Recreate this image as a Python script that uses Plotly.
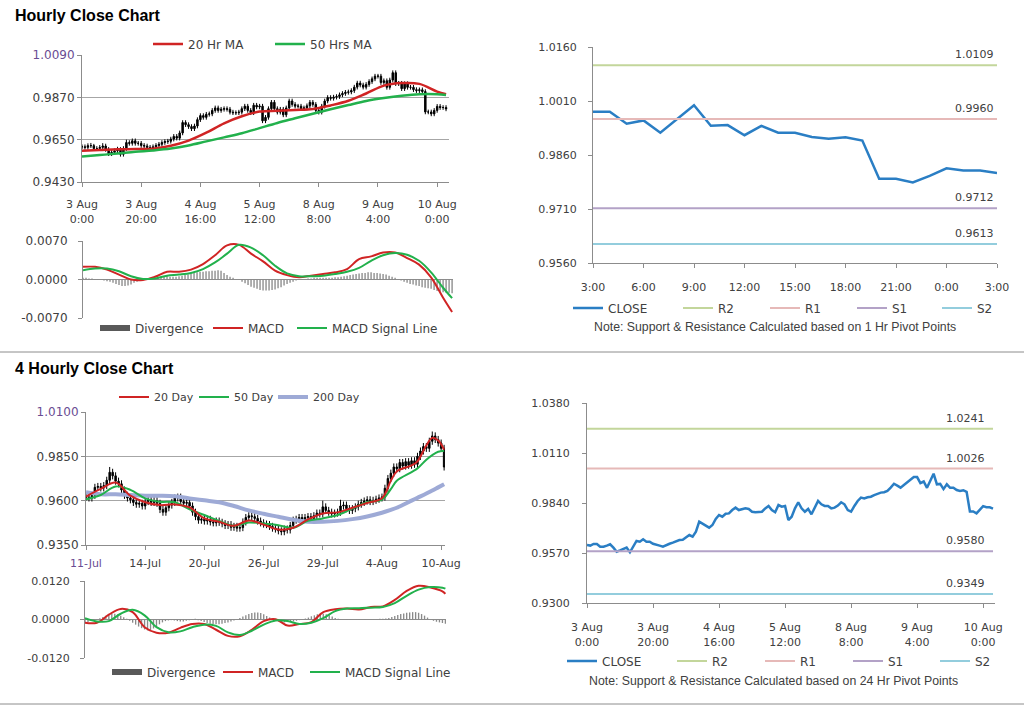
import plotly.graph_objects as go

W, H = 1024, 706
FONT = "DejaVu Sans"
TXT = "#404040"
AXC = "#8c8c8c"
GRID = "#a6a6a6"
RED = "#d02424"
GREEN = "#22b14c"
LAV = "#9eaad6"
BLUE = "#2a7ec4"
PIV_COLORS = ["#c3d69b", "#e6b9b8", "#b3a2c7", "#93cddd"]
PIV_NAMES = ["R2", "R1", "S1", "S2"]

# ---------------- hourly data: 3 Aug 0:00 .. 10 Aug 3:00 (weekend skipped) ----------------
hr_close = [
    0.9613, 0.9610, 0.9619, 0.9619, 0.9604, 0.9604, 0.9610, 0.9617, 0.9599, 0.9577,
    0.9584, 0.9592, 0.9599, 0.9574, 0.9604, 0.9635, 0.9631, 0.9644, 0.9631, 0.9631,
    0.9620, 0.9617, 0.9610, 0.9604, 0.9613, 0.9620, 0.9626, 0.9635, 0.9640, 0.9642,
    0.9653, 0.9667, 0.9658, 0.9685, 0.9739, 0.9728, 0.9718, 0.9707, 0.9721, 0.9754,
    0.9775, 0.9766, 0.9782, 0.9784, 0.9802, 0.9815, 0.9802, 0.9808, 0.9811, 0.9808,
    0.9793, 0.9790, 0.9790, 0.9793, 0.9811, 0.9824, 0.9802, 0.9790, 0.9829, 0.9820,
    0.9824, 0.9748, 0.9766, 0.9811, 0.9844, 0.9811, 0.9793, 0.9808, 0.9779, 0.9815,
    0.9851, 0.9833, 0.9824, 0.9824, 0.9811, 0.9815, 0.9826, 0.9844, 0.9833, 0.9802,
    0.9793, 0.9824, 0.9851, 0.9869, 0.9865, 0.9871, 0.9874, 0.9883, 0.9890, 0.9896,
    0.9898, 0.9905, 0.9923, 0.9944, 0.9934, 0.9923, 0.9937, 0.9952, 0.9966, 0.9980,
    0.9980, 0.9947, 0.9956, 0.9922, 0.9960, 0.9998, 0.9941, 0.9943, 0.9915, 0.9941,
    0.9922, 0.9922, 0.9910, 0.9905, 0.9909, 0.9900, 0.9794, 0.9794, 0.9784, 0.9802,
    0.9823, 0.9817, 0.9817, 0.9810,
]
hr_high = [
    0.9625, 0.9625, 0.9631, 0.9633, 0.9628, 0.9616, 0.9622, 0.9632, 0.9629, 0.9611,
    0.9596, 0.9604, 0.9613, 0.9611, 0.9616, 0.9650, 0.9647, 0.9656, 0.9656, 0.9643,
    0.9643, 0.9632, 0.9629, 0.9622, 0.9625, 0.9632, 0.9638, 0.9647, 0.9652, 0.9654,
    0.9665, 0.9679, 0.9679, 0.9697, 0.9751, 0.9751, 0.9740, 0.9730, 0.9733, 0.9766,
    0.9787, 0.9787, 0.9794, 0.9796, 0.9814, 0.9827, 0.9827, 0.9820, 0.9823, 0.9823,
    0.9820, 0.9805, 0.9802, 0.9805, 0.9823, 0.9836, 0.9836, 0.9814, 0.9841, 0.9841,
    0.9836, 0.9836, 0.9778, 0.9823, 0.9856, 0.9856, 0.9823, 0.9820, 0.9820, 0.9827,
    0.9863, 0.9863, 0.9845, 0.9836, 0.9836, 0.9827, 0.9838, 0.9856, 0.9856, 0.9845,
    0.9814, 0.9836, 0.9863, 0.9881, 0.9881, 0.9883, 0.9886, 0.9895, 0.9902, 0.9908,
    0.9910, 0.9917, 0.9935, 0.9956, 0.9956, 0.9946, 0.9949, 0.9964, 0.9978, 0.9992,
    0.9992, 0.9992, 0.9968, 0.9968, 0.9972, 1.0010, 1.0010, 0.9955, 0.9955, 0.9953,
    0.9953, 0.9934, 0.9934, 0.9922, 0.9921, 0.9921, 0.9912, 0.9806, 0.9806, 0.9814,
    0.9835, 0.9835, 0.9829, 0.9829,
]
hr_low = [
    0.9601, 0.9598, 0.9598, 0.9607, 0.9592, 0.9592, 0.9592, 0.9600, 0.9587, 0.9565,
    0.9565, 0.9572, 0.9580, 0.9562, 0.9562, 0.9592, 0.9619, 0.9619, 0.9619, 0.9619,
    0.9608, 0.9605, 0.9598, 0.9592, 0.9592, 0.9601, 0.9608, 0.9614, 0.9623, 0.9628,
    0.9630, 0.9641, 0.9646, 0.9646, 0.9673, 0.9716, 0.9706, 0.9695, 0.9695, 0.9709,
    0.9742, 0.9754, 0.9754, 0.9770, 0.9772, 0.9790, 0.9790, 0.9790, 0.9796, 0.9796,
    0.9781, 0.9778, 0.9778, 0.9778, 0.9781, 0.9799, 0.9790, 0.9778, 0.9778, 0.9808,
    0.9808, 0.9736, 0.9736, 0.9754, 0.9799, 0.9799, 0.9781, 0.9781, 0.9767, 0.9767,
    0.9803, 0.9821, 0.9812, 0.9812, 0.9799, 0.9799, 0.9803, 0.9814, 0.9821, 0.9790,
    0.9781, 0.9781, 0.9812, 0.9839, 0.9853, 0.9853, 0.9859, 0.9862, 0.9871, 0.9878,
    0.9884, 0.9886, 0.9893, 0.9911, 0.9922, 0.9911, 0.9911, 0.9925, 0.9940, 0.9954,
    0.9968, 0.9935, 0.9935, 0.9910, 0.9910, 0.9948, 0.9929, 0.9929, 0.9903, 0.9903,
    0.9910, 0.9910, 0.9898, 0.9893, 0.9893, 0.9888, 0.9782, 0.9782, 0.9772, 0.9772,
    0.9790, 0.9805, 0.9805, 0.9798,
]
# each hourly bar opens at the previous bar's close
hr_open = hr_close[:1] + hr_close[:-1]

hr_ticks = [0, 20, 40, 60, 80, 100, 120]
hr_ticklabels = ["3 Aug<br>0:00", "3 Aug<br>20:00", "4 Aug<br>16:00", "5 Aug<br>12:00",
                 "8 Aug<br>8:00", "9 Aug<br>4:00", "10 Aug<br>0:00"]

hr_ma_idx = [0, 6, 12, 18, 24, 30, 36, 42, 48, 54, 60, 66, 72, 78, 84, 90, 96, 102, 108, 114, 120, 123]
hr_ma20 = [0.9592, 0.9596, 0.9600, 0.9601, 0.9603, 0.9618, 0.9645, 0.9686, 0.9735, 0.9772, 0.9796,
           0.9800, 0.9804, 0.9809, 0.9828, 0.9852, 0.9890, 0.9931, 0.9944, 0.9940, 0.9900, 0.9886]
hr_ma50 = [0.9562, 0.9570, 0.9578, 0.9587, 0.9594, 0.9604, 0.9620, 0.9641, 0.9662, 0.9683, 0.9710,
           0.9737, 0.9761, 0.9785, 0.9808, 0.9830, 0.9851, 0.9866, 0.9878, 0.9886, 0.9886, 0.9882]

hr_macd_idx = [0, 4, 8, 12, 16, 20, 24, 28, 32, 36, 40, 44, 48, 52, 56, 60, 64, 68, 72, 76, 80,
               84, 88, 92, 96, 100, 104, 108, 112, 116, 120, 123]
hr_macd = [0.0023, 0.0023, 0.0018, 0.0009, 0.0000, -0.0001, 0.0005, 0.0014, 0.0014, 0.0018, 0.0028,
           0.0044, 0.0062, 0.0063, 0.0047, 0.0033, 0.0016, 0.0008, 0.0004, 0.0007, 0.0010,
           0.0013, 0.0019, 0.0037, 0.0042, 0.0049, 0.0049, 0.0039, 0.0027, 0.0004, -0.0033, -0.0059]
hr_signal = [0.0017, 0.0020, 0.0020, 0.0015, 0.0006, 0.0001, 0.0002, 0.0007, 0.0009, 0.0012, 0.0019,
             0.0031, 0.0047, 0.0063, 0.0058, 0.0044, 0.0025, 0.0011, 0.0006, 0.0006, 0.0007,
             0.0010, 0.0014, 0.0021, 0.0034, 0.0044, 0.0048, 0.0045, 0.0034, 0.0013, -0.0015, -0.0034]
hr_div = [
    0.0003, 0.0003, 0.0002, 0.0002, 0.0001, 0.0001, 0.0000,
    -0.0002, -0.0003, -0.0004, -0.0006, -0.0008,
    -0.0010, -0.0012, -0.0012, -0.0011, -0.0009,
    -0.0006, -0.0004, -0.0002, -0.0001,
    0.0001, 0.0002, 0.0003, 0.0004, 0.0005, 0.0005, 0.0006, 0.0006, 0.0005, 0.0005,
    0.0005, 0.0006, 0.0007, 0.0008, 0.0009,
    0.0010, 0.0012, 0.0013, 0.0014, 0.0014, 0.0015, 0.0015, 0.0016, 0.0016, 0.0017, 0.0016,
    0.0012, 0.0008, 0.0005, 0.0003, 0.0001, -0.0001,
    -0.0004, -0.0007, -0.0010, -0.0013, -0.0015, -0.0017,
    -0.0019, -0.0020, -0.0020, -0.0020, -0.0019, -0.0018, -0.0016, -0.0014,
    -0.0011, -0.0008, -0.0006, -0.0004, -0.0002, -0.0001,
    0.0001, 0.0001, 0.0002, 0.0002, 0.0003, 0.0003, 0.0003, 0.0003, 0.0003, 0.0003, 0.0003, 0.0004, 0.0004,
    0.0005, 0.0006, 0.0007, 0.0008, 0.0009, 0.0010, 0.0011, 0.0012, 0.0012, 0.0013, 0.0013, 0.0012,
    0.0012, 0.0011, 0.0010, 0.0009, 0.0007, 0.0005, 0.0003,
    0.0001, -0.0002, -0.0004, -0.0006, -0.0008, -0.0009, -0.0011, -0.0012, -0.0014, -0.0015,
    -0.0016, -0.0017, -0.0019, -0.0021, -0.0022, -0.0023, -0.0024, -0.0024, -0.0025,
]

# ---------------- 1 Hr pivot chart: 9 Aug 3:00 .. 10 Aug 3:00 ----------------
piv1_close = hr_close[-25:]
piv1_ticks = [0, 3, 6, 9, 12, 15, 18, 21, 24]
piv1_ticklabels = ["3:00", "6:00", "9:00", "12:00", "15:00", "18:00", "21:00", "0:00", "3:00"]
piv1_levels = [1.0109, 0.9960, 0.9712, 0.9613]
piv1_yticks = [0.9560, 0.9710, 0.9860, 1.0010, 1.0160]

# ---------------- 24 Hr pivot chart (hourly closes) ----------------
piv24_levels = [1.0241, 1.0026, 0.9580, 0.9349]
piv24_yticks = [0.9300, 0.9570, 0.9840, 1.0110, 1.0380]

# ---------------- 4 hourly data: 11 Jul .. 10 Aug ----------------
h4_close = [
    0.9620, 0.9615, 0.9630, 0.9675, 0.9680, 0.9672, 0.9685, 0.9715, 0.9760, 0.9740,
    0.9710, 0.9695, 0.9660, 0.9630, 0.9615, 0.9605, 0.9590, 0.9580, 0.9585, 0.9570,
    0.9595, 0.9605, 0.9590, 0.9600, 0.9585, 0.9550, 0.9535, 0.9560, 0.9575, 0.9590,
    0.9615, 0.9620, 0.9595, 0.9585, 0.9590, 0.9570, 0.9535, 0.9510, 0.9490, 0.9495,
    0.9485, 0.9495, 0.9480, 0.9475, 0.9485, 0.9478, 0.9470, 0.9460, 0.9465, 0.9450,
    0.9455, 0.9445, 0.9448, 0.9480, 0.9505, 0.9515, 0.9510, 0.9500, 0.9485, 0.9475,
    0.9468, 0.9465, 0.9455, 0.9445, 0.9440, 0.9430, 0.9425, 0.9440, 0.9435, 0.9460,
    0.9490, 0.9495, 0.9505, 0.9495, 0.9505, 0.9510, 0.9500, 0.9515, 0.9530, 0.9525,
    0.9565, 0.9545, 0.9535, 0.9525, 0.9530, 0.9535, 0.9570, 0.9575, 0.9555, 0.9545,
    0.9555, 0.9565, 0.9580, 0.9590, 0.9598, 0.9605, 0.9595, 0.9602, 0.9608, 0.9615,
    0.9620, 0.9670, 0.9725, 0.9755, 0.9790, 0.9780, 0.9815, 0.9795, 0.9820, 0.9800,
    0.9825, 0.9805, 0.9850, 0.9880, 0.9905, 0.9895, 0.9935, 0.9965, 0.9945, 0.9925,
    0.9895, 0.9790,
]
h4_high = [
    0.9640, 0.9640, 0.9650, 0.9695, 0.9700, 0.9700, 0.9705, 0.9735, 0.9790, 0.9780,
    0.9760, 0.9730, 0.9715, 0.9680, 0.9650, 0.9635, 0.9625, 0.9610, 0.9605, 0.9605,
    0.9615, 0.9625, 0.9625, 0.9620, 0.9620, 0.9605, 0.9570, 0.9580, 0.9595, 0.9610,
    0.9635, 0.9640, 0.9640, 0.9615, 0.9610, 0.9610, 0.9590, 0.9555, 0.9530, 0.9515,
    0.9515, 0.9515, 0.9515, 0.9500, 0.9505, 0.9505, 0.9498, 0.9490, 0.9485, 0.9485,
    0.9475, 0.9475, 0.9468, 0.9500, 0.9525, 0.9535, 0.9535, 0.9530, 0.9520, 0.9505,
    0.9495, 0.9488, 0.9485, 0.9475, 0.9465, 0.9460, 0.9450, 0.9460, 0.9460, 0.9480,
    0.9510, 0.9515, 0.9525, 0.9525, 0.9525, 0.9530, 0.9530, 0.9535, 0.9550, 0.9550,
    0.9600, 0.9585, 0.9565, 0.9555, 0.9550, 0.9555, 0.9605, 0.9595, 0.9595, 0.9575,
    0.9575, 0.9585, 0.9600, 0.9610, 0.9618, 0.9625, 0.9625, 0.9622, 0.9628, 0.9635,
    0.9640, 0.9690, 0.9745, 0.9775, 0.9810, 0.9810, 0.9835, 0.9835, 0.9840, 0.9840,
    0.9845, 0.9845, 0.9870, 0.9900, 0.9925, 0.9925, 0.9955, 0.9990, 0.9985, 0.9965,
    0.9945, 0.9915,
]
h4_low = [
    0.9600, 0.9595, 0.9595, 0.9610, 0.9655, 0.9652, 0.9652, 0.9665, 0.9695, 0.9720,
    0.9690, 0.9675, 0.9640, 0.9610, 0.9595, 0.9585, 0.9570, 0.9560, 0.9560, 0.9550,
    0.9550, 0.9575, 0.9570, 0.9570, 0.9565, 0.9530, 0.9515, 0.9515, 0.9540, 0.9555,
    0.9570, 0.9595, 0.9575, 0.9565, 0.9565, 0.9550, 0.9515, 0.9490, 0.9470, 0.9470,
    0.9465, 0.9465, 0.9460, 0.9455, 0.9455, 0.9458, 0.9450, 0.9440, 0.9440, 0.9430,
    0.9430, 0.9425, 0.9425, 0.9428, 0.9460, 0.9485, 0.9490, 0.9480, 0.9465, 0.9455,
    0.9448, 0.9445, 0.9435, 0.9425, 0.9420, 0.9410, 0.9405, 0.9405, 0.9415, 0.9415,
    0.9440, 0.9470, 0.9475, 0.9475, 0.9475, 0.9485, 0.9480, 0.9480, 0.9495, 0.9505,
    0.9505, 0.9525, 0.9515, 0.9505, 0.9505, 0.9510, 0.9515, 0.9550, 0.9535, 0.9525,
    0.9525, 0.9535, 0.9545, 0.9560, 0.9570, 0.9578, 0.9575, 0.9575, 0.9582, 0.9588,
    0.9595, 0.9600, 0.9650, 0.9705, 0.9735, 0.9760, 0.9760, 0.9775, 0.9775, 0.9780,
    0.9780, 0.9785, 0.9785, 0.9830, 0.9860, 0.9875, 0.9875, 0.9915, 0.9925, 0.9905,
    0.9875, 0.9770,
]
h4_open = h4_close[:1] + h4_close[:-1]

h4_ticks = [0, 20, 40, 60, 80, 100, 120]
h4_ticklabels = ["11-Jul", "14-Jul", "20-Jul", "26-Jul", "29-Jul", "4-Aug", "10-Aug"]

h4_ma_idx = [0, 5, 10, 15, 20, 25, 30, 35, 40, 45, 50, 55, 60, 65, 70, 75, 80, 85, 90, 95, 100,
             103, 105, 110, 112, 115, 117, 119, 121]
h4_ma20 = [0.9623, 0.9666, 0.9702, 0.9628, 0.9591, 0.9575, 0.9579, 0.9562, 0.9500, 0.9481, 0.9458,
           0.9488, 0.9465, 0.9437, 0.9447, 0.9494, 0.9528, 0.9534, 0.9560, 0.9587, 0.9613,
           0.9712, 0.9765, 0.9799, 0.9822, 0.9912, 0.9954, 0.9939, 0.9888]
h4_ma50 = [0.9608, 0.9632, 0.9680, 0.9661, 0.9613, 0.9594, 0.9591, 0.9551, 0.9519, 0.9486, 0.9458,
           0.9477, 0.9471, 0.9462, 0.9447, 0.9486, 0.9500, 0.9519, 0.9556, 0.9591, 0.9606,
           0.9665, 0.9712, 0.9761, 0.9782, 0.9831, 0.9857, 0.9876, 0.9882]
h4_ma200 = [0.9647, 0.9636, 0.9636, 0.9632, 0.9628, 0.9628, 0.9625, 0.9613, 0.9602, 0.9591, 0.9570,
            0.9545, 0.9526, 0.9509, 0.9492, 0.9481, 0.9481, 0.9486, 0.9496, 0.9511, 0.9532,
            0.9548, 0.9560, 0.9600, 0.9616, 0.9640, 0.9657, 0.9675, 0.9693]

h4_macd_idx = [0, 4, 8, 12, 16, 20, 24, 28, 32, 36, 40, 44, 48, 52, 56, 60, 64, 68, 72, 76, 80,
               84, 88, 92, 96, 100, 104, 108, 112, 116, 120, 121]
h4_macd = [-0.0010, -0.0010, 0.0015, 0.0033, 0.0023, -0.0024, -0.0041, -0.0041, -0.0026, -0.0014,
           -0.0014, -0.0032, -0.0051, -0.0052, -0.0032, -0.0005, 0.0001, -0.0019, -0.0014, -0.0008,
           0.0023, 0.0032, 0.0034, 0.0031, 0.0039, 0.0041, 0.0061, 0.0089, 0.0105, 0.0100, 0.0088, 0.0080]
h4_signal = [0.0004, -0.0006, -0.0005, 0.0018, 0.0030, 0.0013, -0.0024, -0.0040, -0.0037, -0.0024,
             -0.0016, -0.0020, -0.0040, -0.0048, -0.0035, -0.0016, -0.0003, -0.0005, -0.0014, -0.0010,
             0.0004, 0.0026, 0.0034, 0.0035, 0.0037, 0.0039, 0.0051, 0.0074, 0.0093, 0.0101, 0.0099, 0.0096]
h4_div = [
    -0.0010, -0.0008, -0.0005, -0.0002, 0.0001,
    0.0004, 0.0008, 0.0012, 0.0015, 0.0018, 0.0018, 0.0016, 0.0012, 0.0007,
    0.0002, -0.0004, -0.0010, -0.0016, -0.0022, -0.0027, -0.0031, -0.0034, -0.0033, -0.0028, -0.0022, -0.0015,
    -0.0009, -0.0005, -0.0003, -0.0002, -0.0003, -0.0005, -0.0006, -0.0006, -0.0004, -0.0002, 0.0001, 0.0002,
    -0.0002, -0.0005, -0.0008, -0.0011, -0.0013, -0.0014, -0.0015, -0.0015, -0.0013, -0.0011, -0.0009, -0.0006, -0.0003,
    0.0001, 0.0005, 0.0009, 0.0013, 0.0017, 0.0020, 0.0022, 0.0022, 0.0020, 0.0016, 0.0011, 0.0006,
    0.0001, -0.0003, -0.0006, -0.0008, -0.0009, -0.0008, -0.0007, -0.0006, -0.0004, -0.0002, 0.0000,
    0.0003, 0.0006, 0.0010, 0.0013, 0.0016, 0.0018, 0.0018, 0.0016, 0.0013, 0.0009, 0.0005,
    0.0002, 0.0001, 0.0000, -0.0001, -0.0001, 0.0000, 0.0001, 0.0001, 0.0000, -0.0001, 0.0000, 0.0001,
    0.0001, 0.0001, 0.0002, 0.0002, 0.0003,
    0.0005, 0.0008, 0.0011, 0.0014, 0.0017, 0.0019, 0.0021, 0.0022, 0.0023, 0.0023, 0.0021, 0.0017, 0.0012, 0.0006,
    0.0000, -0.0004, -0.0007, -0.0009, -0.0011, -0.0013,
]

# ---------------- helpers (pixel layout -> paper) ----------------
def dx(a, b):
    return [a / W, b / W]


def dy(top, bottom):
    return [1 - bottom / H, 1 - top / H]


def fmt_ticks(vals, first_color=None):
    out = [f"{v:.4f}" for v in vals]
    if first_color:
        out[-1] = f'<span style="color:{first_color}">{out[-1]}</span>'
    return out


tickfont = dict(family=FONT, size=11, color=TXT)
ytickfont_left = dict(family=FONT, size=12, color=TXT)
legfont = dict(family=FONT, size=12, color=TXT)

fig = go.Figure()

# ===== Panel A: hourly bars + MAs =====
fig.add_trace(go.Candlestick(
    x=list(range(len(hr_close))), open=hr_open, high=hr_high, low=hr_low, close=hr_close,
    increasing=dict(line=dict(color="black", width=1), fillcolor="black"),
    decreasing=dict(line=dict(color="black", width=1), fillcolor="black"),
    showlegend=False, hoverinfo="skip", xaxis="x", yaxis="y"))
fig.add_trace(go.Scatter(x=hr_ma_idx, y=hr_ma20, mode="lines", name="20 Hr MA",
                         line=dict(color=RED, width=2.5, shape="spline"), xaxis="x", yaxis="y",
                         legend="legend", legendwidth=77))
fig.add_trace(go.Scatter(x=hr_ma_idx, y=hr_ma50, mode="lines", name="50 Hrs MA",
                         line=dict(color=GREEN, width=2.5, shape="spline"), xaxis="x", yaxis="y",
                         legend="legend", legendwidth=70))

# ===== Panel B: hourly MACD =====
fig.add_trace(go.Bar(x=list(range(len(hr_div))), y=hr_div, marker=dict(color="#8a8a8a", line=dict(width=0)),
                     width=0.45, showlegend=False, xaxis="x2", yaxis="y2"))
fig.add_trace(go.Scatter(x=[None], y=[None], mode="lines", name="Divergence",
                         line=dict(color="#595959", width=6), xaxis="x2", yaxis="y2",
                         legend="legend2", legendwidth=68))
fig.add_trace(go.Scatter(x=hr_macd_idx, y=hr_macd, mode="lines", name="MACD",
                         line=dict(color=RED, width=2, shape="spline"), xaxis="x2", yaxis="y2",
                         legend="legend2", legendwidth=39))
fig.add_trace(go.Scatter(x=hr_macd_idx, y=hr_signal, mode="lines", name="MACD Signal Line",
                         line=dict(color=GREEN, width=2, shape="spline"), xaxis="x2", yaxis="y2",
                         legend="legend2", legendwidth=110))

# ===== Panel C: 1 Hr pivot =====
n1 = len(piv1_close)
fig.add_trace(go.Scatter(x=list(range(n1)), y=piv1_close, mode="lines", name="CLOSE",
                         line=dict(color=BLUE, width=2.5), xaxis="x3", yaxis="y3",
                         legend="legend3", legendwidth=65))
for nm, lv, col, lw in zip(PIV_NAMES, piv1_levels, PIV_COLORS, [42, 42, 40, 30]):
    fig.add_trace(go.Scatter(x=list(range(n1)), y=[lv] * n1, mode="lines", name=nm,
                             line=dict(color=col, width=2), xaxis="x3", yaxis="y3",
                             legend="legend3", legendwidth=lw))

# ===== Panel D: 4 hourly bars + MAs =====
fig.add_trace(go.Candlestick(
    x=list(range(len(h4_close))), open=h4_open, high=h4_high, low=h4_low, close=h4_close,
    increasing=dict(line=dict(color="black", width=1), fillcolor="black"),
    decreasing=dict(line=dict(color="black", width=1), fillcolor="black"),
    showlegend=False, hoverinfo="skip", xaxis="x4", yaxis="y4"))
fig.add_trace(go.Scatter(x=h4_ma_idx, y=h4_ma200, mode="lines", name="200 Day",
                         line=dict(color=LAV, width=4, shape="spline"), xaxis="x4", yaxis="y4",
                         legend="legend4", legendwidth=45, legendrank=3))
fig.add_trace(go.Scatter(x=h4_ma_idx, y=h4_ma50, mode="lines", name="50 Day",
                         line=dict(color=GREEN, width=2, shape="spline"), xaxis="x4", yaxis="y4",
                         legend="legend4", legendwidth=34, legendrank=2))
fig.add_trace(go.Scatter(x=h4_ma_idx, y=h4_ma20, mode="lines", name="20 Day",
                         line=dict(color=RED, width=2, shape="spline"), xaxis="x4", yaxis="y4",
                         legend="legend4", legendwidth=35, legendrank=1))

# ===== Panel E: 4 hourly MACD =====
fig.add_trace(go.Bar(x=list(range(len(h4_div))), y=h4_div, marker=dict(color="#8a8a8a", line=dict(width=0)),
                     width=0.45, showlegend=False, xaxis="x5", yaxis="y5"))
fig.add_trace(go.Scatter(x=[None], y=[None], mode="lines", name="Divergence",
                         line=dict(color="#595959", width=6), xaxis="x5", yaxis="y5",
                         legend="legend5", legendwidth=66))
fig.add_trace(go.Scatter(x=h4_macd_idx, y=h4_macd, mode="lines", name="MACD",
                         line=dict(color=RED, width=2, shape="spline"), xaxis="x5", yaxis="y5",
                         legend="legend5", legendwidth=42))
fig.add_trace(go.Scatter(x=h4_macd_idx, y=h4_signal, mode="lines", name="MACD Signal Line",
                         line=dict(color=GREEN, width=2, shape="spline"), xaxis="x5", yaxis="y5",
                         legend="legend5", legendwidth=110))

# ===== Panel F: 24 Hr pivot =====
n24 = len(hr_close)
fig.add_trace(go.Scatter(x=list(range(n24)), y=hr_close, mode="lines", name="CLOSE",
                         line=dict(color=BLUE, width=2.5), xaxis="x6", yaxis="y6",
                         legend="legend6", legendwidth=65))
for nm, lv, col, lw in zip(PIV_NAMES, piv24_levels, PIV_COLORS, [43, 43, 42, 30]):
    fig.add_trace(go.Scatter(x=list(range(n24)), y=[lv] * n24, mode="lines", name=nm,
                             line=dict(color=col, width=2), xaxis="x6", yaxis="y6",
                             legend="legend6", legendwidth=lw))

# ---------------- axes ----------------
def xax(domain, rng, anchor, tickvals=None, ticktext=None, standoff=0, show=True):
    d = dict(domain=domain, range=rng, anchor=anchor, showgrid=False, zeroline=False,
             fixedrange=True, tickfont=tickfont, automargin=False)
    if show:
        d.update(showline=True, linecolor=AXC, linewidth=1, ticks="outside", ticklen=4,
                 tickcolor=AXC, tickvals=tickvals, ticktext=ticktext, ticklabelstandoff=standoff)
    else:
        d.update(showline=False, ticks="", showticklabels=False)
    return d


def yax(domain, rng, anchor, tickvals, ticktext, grid=True, zero=False, standoff=0, font=tickfont):
    return dict(domain=domain, range=rng, anchor=anchor, tickvals=tickvals, ticktext=ticktext,
                showgrid=grid, gridcolor=GRID, gridwidth=1, zeroline=zero, zerolinecolor=AXC,
                zerolinewidth=1, showline=True, linecolor=AXC, linewidth=1, ticks="outside",
                ticklen=4, tickcolor=AXC, tickfont=font, fixedrange=True,
                ticklabelstandoff=standoff, automargin=False)


hrA_y = [0.9430, 0.9650, 0.9870, 1.0090]
macdA_y = [-0.0070, 0.0000, 0.0070]
h4_y = [0.9350, 0.9600, 0.9850, 1.0100]
macdB_y = [-0.0120, 0.0000, 0.0120]
PURPLE = "#6a4c93"

layout_axes = dict(
    xaxis=xax(dx(82, 449), [0, 124], "y", hr_ticks, hr_ticklabels, standoff=8),
    yaxis=yax(dy(55, 182), [0.9430, 1.0090], "x", hrA_y, fmt_ticks(hrA_y, PURPLE), font=ytickfont_left),
    xaxis2=xax(dx(83, 453), [0, 123.3], "y2", show=False),
    yaxis2=yax(dy(241, 318), [-0.0070, 0.0070], "x2", macdA_y, fmt_ticks(macdA_y), zero=True, standoff=8,
               font=ytickfont_left),
    xaxis3=xax(dx(593, 997), [0, 24], "y3", piv1_ticks, piv1_ticklabels, standoff=10),
    yaxis3=yax(dy(47, 263), [0.9560, 1.0160], "x3", piv1_yticks, fmt_ticks(piv1_yticks), grid=False, standoff=9),
    xaxis4=xax(dx(86, 445), [0, 121.3], "y4", h4_ticks,
               [f'<span style="color:{PURPLE}">{h4_ticklabels[0]}</span>'] + h4_ticklabels[1:], standoff=4),
    yaxis4=yax(dy(412, 545), [0.9350, 1.0100], "x4", h4_y, fmt_ticks(h4_y, PURPLE), font=ytickfont_left),
    xaxis5=xax(dx(85, 446), [0, 121.2], "y5", show=False),
    yaxis5=yax(dy(581, 658), [-0.0120, 0.0120], "x5", macdB_y, fmt_ticks(macdB_y), zero=True, standoff=8),
    xaxis6=xax(dx(587, 995), [0, 123.6], "y6", hr_ticks, hr_ticklabels, standoff=10),
    yaxis6=yax(dy(403, 603), [0.9300, 1.0380], "x6", piv24_yticks, fmt_ticks(piv24_yticks), grid=False, standoff=10),
)
layout_axes["xaxis"]["rangeslider"] = dict(visible=False)
layout_axes["xaxis4"]["rangeslider"] = dict(visible=False)


def leg(xpx, ypx, size=12):
    return dict(orientation="h", x=xpx / W, y=1 - ypx / H, xanchor="left", yanchor="middle",
                bgcolor="rgba(0,0,0,0)", borderwidth=0, font=dict(family=FONT, size=size, color=TXT),
                itemwidth=30, traceorder="normal", itemclick=False, itemdoubleclick=False)


annotations = [
    dict(text="<b>Hourly Close Chart</b>", x=13 / W, y=1 - 16 / H, xref="paper", yref="paper",
         xanchor="left", yanchor="middle", showarrow=False,
         font=dict(family="Liberation Sans", size=16, color="black")),
    dict(text="<b>4 Hourly Close Chart</b>", x=13 / W, y=1 - 369 / H, xref="paper", yref="paper",
         xanchor="left", yanchor="middle", showarrow=False,
         font=dict(family="Liberation Sans", size=16, color="black")),
    dict(text="Note: Support & Resistance Calculated based on 1 Hr Pivot Points", x=775 / W,
         y=1 - 327 / H, xref="paper", yref="paper", xanchor="center", yanchor="middle",
         showarrow=False, font=dict(family="Liberation Sans", size=12.3, color=TXT)),
    dict(text="Note: Support & Resistance Calculated based on 24 Hr Pivot Points", x=773 / W,
         y=1 - 681 / H, xref="paper", yref="paper", xanchor="center", yanchor="middle",
         showarrow=False, font=dict(family="Liberation Sans", size=12.3, color=TXT)),
]
for lv in piv1_levels:
    annotations.append(dict(text=f"{lv:.4f}", x=n1 - 1, y=lv, xref="x3", yref="y3", xanchor="right",
                            yanchor="bottom", yshift=2, xshift=-1, showarrow=False,
                            font=dict(family=FONT, size=11, color=TXT)))
for lv in piv24_levels:
    annotations.append(dict(text=f"{lv:.4f}", x=n24 - 1, y=lv, xref="x6", yref="y6", xanchor="right",
                            yanchor="bottom", yshift=2, xshift=-6, showarrow=False,
                            font=dict(family=FONT, size=11, color=TXT)))

shapes = [
    dict(type="line", xref="paper", yref="paper", x0=0, x1=1, y0=1 - 352 / H, y1=1 - 352 / H,
         line=dict(color="#8c8c8c", width=1)),
    dict(type="line", xref="paper", yref="paper", x0=0, x1=1, y0=1 - 704 / H, y1=1 - 704 / H,
         line=dict(color="#8c8c8c", width=1)),
]

fig.update_layout(
    width=W, height=H, autosize=False,
    margin=dict(l=0, r=0, t=0, b=0, pad=0, autoexpand=False),
    paper_bgcolor="white", plot_bgcolor="white",
    hovermode=False, bargap=0.5, showlegend=True,
    legend=leg(148, 44), legend2=leg(95, 328), legend3=leg(568, 308),
    legend4=leg(114, 397, 11), legend5=leg(107, 672), legend6=leg(562, 661),
    annotations=annotations, shapes=shapes,
    **layout_axes,
)

fig.write_html("out.html", config={"displayModeBar": False, "staticPlot": True},
               post_script="document.body.style.margin='0';document.body.style.overflow='hidden';")
